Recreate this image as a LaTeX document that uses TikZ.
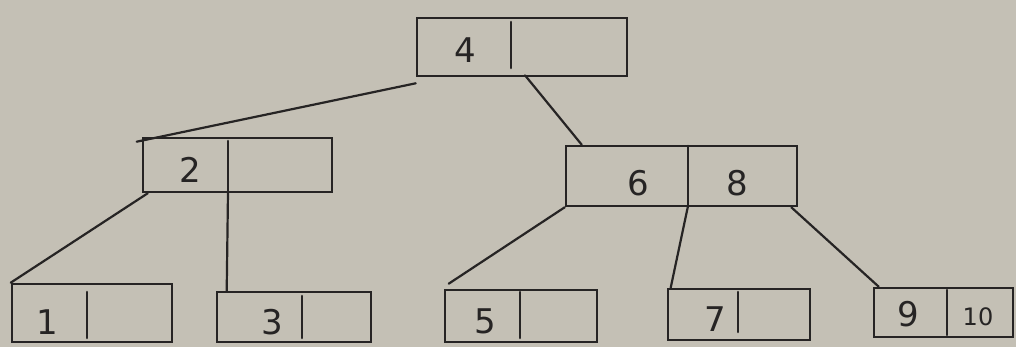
\documentclass[tikz,border=0pt]{standalone}
\usepackage{fontspec}
\setmainfont{DejaVu Sans}
\usetikzlibrary{calc}
\definecolor{paper}{RGB}{196,192,181}
\definecolor{ink}{RGB}{38,36,36}
\begin{document}
\begin{tikzpicture}[x=1pt,y=-1pt,
  keybox/.style={draw=ink,line width=2.6pt,rectangle,inner sep=0pt,minimum width=#1},
  keytxt/.style={text=ink,font=\fontsize{34}{34}\selectfont,inner sep=0pt},
  small/.style={text=ink,font=\fontsize{24}{24}\selectfont,inner sep=0pt},
  link/.style={draw=ink,line width=2.2pt,line cap=round}]
\fill[paper] (0,0) rectangle (1016,347);
\useasboundingbox (0,0) rectangle (1016,347);
% boxes
\node[keybox=210pt,minimum height=58pt] (root) at (522,47) {};
\node[keybox=189pt,minimum height=54pt] (L) at (237.5,165) {};
\node[keybox=231pt,minimum height=60pt] (R) at (681.5,176) {};
\node[keybox=160pt,minimum height=58pt] (l1) at (92,313) {};
\node[keybox=154pt,minimum height=50pt] (l3) at (294,317) {};
\node[keybox=152pt,minimum height=52pt] (l5) at (521,316) {};
\node[keybox=142pt,minimum height=51pt] (l7) at (739,314.5) {};
\node[keybox=139pt,minimum height=49pt] (l9) at (943.5,312.5) {};
% dividers
\coordinate (rootdt) at (511,22); \coordinate (rootdb) at (511,68);
\coordinate (Ldt) at (228,141); \coordinate (Ldb) at (228,192);
\coordinate (Rdt) at (688,146); \coordinate (Rdb) at (688,206);
\coordinate (l1dt) at (87,292); \coordinate (l1db) at (87,338);
\coordinate (l3dt) at (302,296); \coordinate (l3db) at (302,338);
\coordinate (l5dt) at (520,292); \coordinate (l5db) at (520,338);
\coordinate (l7dt) at (738,292); \coordinate (l7db) at (738,332);
\coordinate (l9dt) at (947,290); \coordinate (l9db) at (947,335);
\foreach \n in {root,L,R,l1,l3,l5,l7,l9}{\draw[link,line width=2.6pt] (\n dt) -- (\n db);}
% keys
\node[keytxt] (k4) at (465,50) {4};
\node[keytxt] (k2) at (190,170) {2};
\node[keytxt] (k6) at (638,183) {6};
\node[keytxt] (k8) at (737,183) {8};
\node[keytxt] (k1) at (47,322) {1};
\node[keytxt] (k3) at (272,322) {3};
\node[keytxt] (k5) at (485,321) {5};
\node[keytxt] (k7) at (715,319) {7};
\node[keytxt] (k9) at (908,314) {9};
\node[small] (k10) at (978,317) {10};
% connectors
\draw[link] ([yshift=-6pt]root.south west) -- ([xshift=-5pt,yshift=-5pt]L.north west);
\draw[link] ([xshift=3pt,yshift=2pt]root.south) -- ([xshift=17pt]R.north west);
\draw[link] ([xshift=6pt]L.south west) -- (l1.north west);
\draw[link] (Ldb) -- ([xshift=11pt]l3.north west);
\draw[link] (R.south west) -- ([xshift=5pt,yshift=5pt]l5.north west);
\draw[link] (Rdb) -- ([xshift=4pt]l7.north west);
\draw[link] ([xshift=-7pt]R.south east) -- ([xshift=6pt]l9.north west);
\end{tikzpicture}
\end{document}
